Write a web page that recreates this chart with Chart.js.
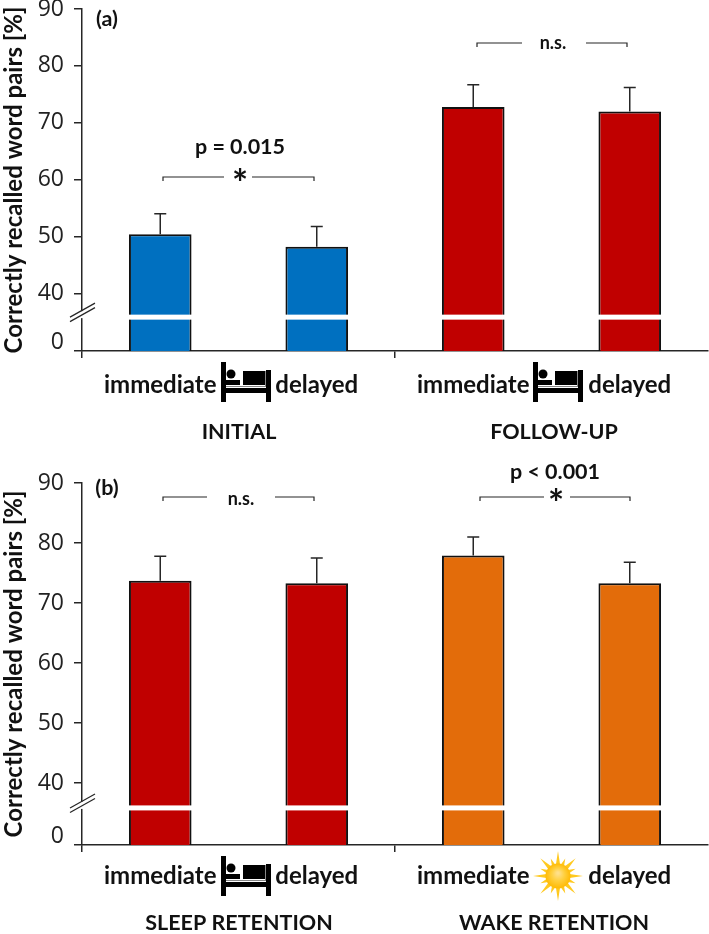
<!DOCTYPE html>
<html><head><meta charset="utf-8">
<script src="https://cdn.jsdelivr.net/npm/chart.js@4/dist/chart.umd.min.js"></script>
<style>
html,body{margin:0;padding:0;background:#fff;width:709px;height:934px;overflow:hidden}
canvas{position:absolute;left:0}
#a{top:0}#b{top:455px}
</style></head><body>
<canvas id="a" width="709" height="455"></canvas>
<canvas id="b" width="709" height="479"></canvas>
<script>
const categories = ["immediate","delayed","immediate","delayed"];
const tickValues = [40,50,60,70,80,90];
const groupsA = ["INITIAL","FOLLOW-UP"];
const groupsB = ["SLEEP RETENTION","WAKE RETENTION"];
const valuesA = [50.4,48.2,72.8,72.0];
const errorTopA = [54.0,51.8,76.7,76.2];
const valuesB = [73.7,73.3,77.9,73.3];
const errorTopB = [77.8,77.5,81.0,76.8];
const coloursA = ["#0070C0","#0070C0","#C00000","#C00000"];
const coloursB = ["#C00000","#C00000","#E36C0A","#E36C0A"];
const axisFloorA = 29.9, axisFloorB = 29.67, breakValue = 35.85;

const INK="#262626", FONT='"Open Sans", sans-serif', LATO='Lato, sans-serif', BOLD='700 21.5px '+LATO;

function bed(c,x,y){ // x = centre, y = top
  c.save();c.fillStyle="#000";
  c.fillRect(x-25,y,5,40);c.fillRect(x+20,y+8,5,32);
  c.fillRect(x-20,y+26,40,5);
  c.fillRect(x-3,y+9,22,14);
  c.fillRect(x-20,y+18,14,5);
  c.fillStyle="#888";c.fillRect(x-20,y+24,40,1);c.fillRect(x+19,y+9,1,15);
  c.fillStyle="#000";
  c.beginPath();c.arc(x-15,y+12,4.5,0,7);c.fill();
  c.restore();
}
function sun(c,x,y){
  c.save();
  const n=16;
  for(let i=0;i<n;i++){
    const a=i*Math.PI*2/n, long=i%2===0, r=long?25:19;
    const px=Math.cos(a),py=Math.sin(a);
    c.fillStyle="#FFC91F";
    c.beginPath();
    c.moveTo(x+px*r,y+py*r);
    c.lineTo(x+px*8-py*2.6,y+py*8+px*2.6);
    c.lineTo(x+px*8+py*2.6,y+py*8-px*2.6);
    c.closePath();c.fill();
  }
  const g=c.createRadialGradient(x,y-3,1,x,y,13);
  g.addColorStop(0,"#FFE08A");g.addColorStop(.45,"#FFD040");g.addColorStop(1,"#FFB800");
  c.fillStyle=g;c.beginPath();c.arc(x,y,12.5,0,7);c.fill();
  c.restore();
}
function bracket(c,x1,x2,y,g1,g2){
  c.save();c.strokeStyle=INK;c.lineWidth=1.2;
  c.beginPath();c.moveTo(x1,y+4);c.lineTo(x1,y);c.lineTo(g1,y);
  c.moveTo(g2,y);c.lineTo(x2,y);c.lineTo(x2,y+4);c.stroke();c.restore();
}
function text(c,s,x,y,font,align){
  c.save();c.fillStyle="#111";c.font=font;c.textAlign=align||"center";c.textBaseline="middle";
  c.fillText(s,x,y);c.restore();
}

function makeChart(id,pageTop,values,errorTop,colours,floor,areaTop,areaBottom,pageBottom,labelPad,groupY,groups,extras){
  const annotate={
    id:"annotate",
    afterDatasetsDraw(ch){
      const c=ch.ctx,y=ch.scales.y,x=ch.scales.x,meta=ch.getDatasetMeta(0);
      c.save();c.strokeStyle=INK;c.lineWidth=1.5;
      errorTop.forEach((v,i)=>{
        const px=x.getPixelForValue(i),t=y.getPixelForValue(v),b=y.getPixelForValue(values[i]);
        c.beginPath();c.moveTo(px,b);c.lineTo(px,t);c.moveTo(px-6,t);c.lineTo(px+6,t);c.stroke();
      });
      const by=y.getPixelForValue(breakValue);
      c.fillStyle="#fff";
      meta.data.forEach(el=>{c.fillRect(el.x-el.width/2-1.5,by-2.5,el.width+3,5);});
      c.fillRect(ch.chartArea.left-1.5,by-6,3,7);
      c.strokeStyle=INK;c.lineWidth=1.2;
      [-3,1.5].forEach(d=>{c.beginPath();c.moveTo(70,by+d+3);c.lineTo(95,by+d-11);c.stroke();});
      c.restore();
      c.save();c.translate(0,-pageTop);
      groups.forEach((g,i)=>text(c,g,i?554:239,groupY,BOLD));
      extras(c);
      c.restore();
    }
  };
  return new Chart(document.getElementById(id),{
    type:"bar",
    data:{labels:categories,datasets:[{data:values,backgroundColor:colours,borderColor:"#111",borderWidth:2,
      barPercentage:.4,categoryPercentage:1}]},
    plugins:[annotate],
    options:{
      responsive:false,animation:false,
      layout:{padding:{top:areaTop-pageTop,right:1,left:0,bottom:0}},
      plugins:{legend:{display:false},tooltip:{enabled:false},title:{display:false}},
      scales:{
        x:{
          grid:{offset:true,drawOnChartArea:false,drawTicks:true,tickLength:7,lineWidth:1.5,
            tickColor:ctx=>(ctx.index===0||ctx.index===2)?INK:"rgba(0,0,0,0)",color:INK},
          border:{color:INK,width:1.5},
          ticks:{autoSkip:false,maxRotation:0,minRotation:0,color:"#111",padding:labelPad,
            font:{family:LATO,weight:"700",size:24}},
          afterFit(s){s.height=pageBottom-areaBottom;s.paddingLeft=s.paddingRight=0;}
        },
        y:{
          type:"linear",min:floor,max:90,
          afterBuildTicks(s){s.ticks=[floor].concat(tickValues).map(v=>({value:v}));},
          grid:{drawOnChartArea:false,tickLength:8,lineWidth:1.5,tickColor:INK},
          border:{color:INK,width:1.5},
          ticks:{color:"#222",padding:10,
            font:ctx=>({family:FONT,size:23,lineHeight:ctx.index===0?0.72:1.2}),
            callback:v=>v===floor?["0",""]:v},
          title:{display:true,text:"Correctly recalled word pairs [%]",color:"#111",
            font:{family:LATO,weight:"700",size:24},padding:0},
          afterFit(s){s.width=82;s.paddingTop=s.paddingBottom=0;}
        }
      }
    }
  });
}

makeChart("a",0,valuesA,errorTopA,coloursA,axisFloorA,9,351,455,12.5,432,groupsA,c=>{
  text(c,"(a)",107,19,BOLD);
  text(c,"p = 0.015",240,147,BOLD);
  bracket(c,163,314,177,224,252);
  text(c,"*",240,185,'700 38px '+LATO);
  bracket(c,477,627,43,522,586);
  text(c,"n.s.",553,43,'700 18px '+LATO);
  bed(c,246,362);
  bed(c,558,362);
});
makeChart("b",455,valuesB,errorTopB,coloursB,axisFloorB,483,845,934,9.5,923,groupsB,c=>{
  text(c,"(b)",107,488,BOLD);
  text(c,"p < 0.001",555,472,BOLD);
  bracket(c,163,314,497,207,275);
  text(c,"n.s.",241,499,'700 18px '+LATO);
  bracket(c,480,630,497,544,570);
  text(c,"*",556,505,'700 38px '+LATO);
  bed(c,246,856);
  sun(c,558,876);
});
</script>
</body></html>
